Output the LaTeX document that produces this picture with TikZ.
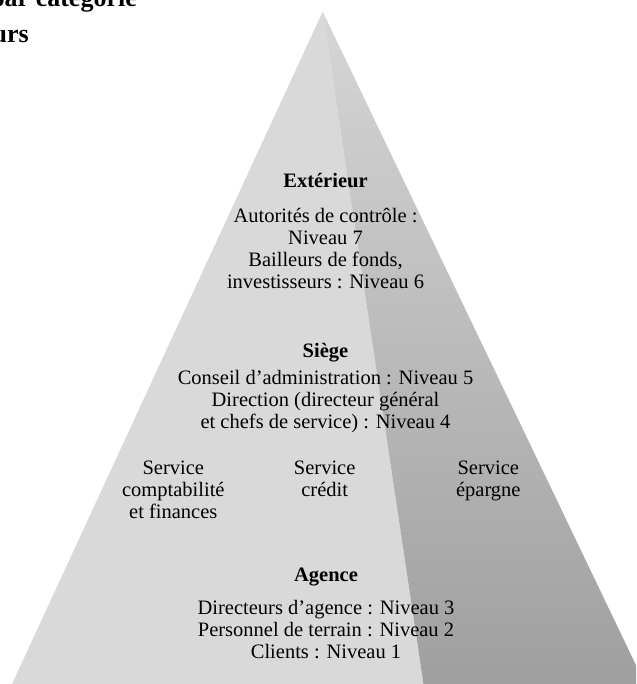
\documentclass[tikz,border=0pt]{standalone}
\usepackage{fontspec}
\setmainfont{Liberation Serif}
\definecolor{faceleft}{HTML}{D9D9D9}
\definecolor{facetop}{HTML}{D6D6D6}
\definecolor{facemid}{HTML}{C2C2C2}
\definecolor{facebot}{HTML}{9F9F9F}

\begin{document}
\begin{tikzpicture}[x=1pt,y=-1pt,
	lvl/.style={font=\fontsize{20.5}{22}\selectfont, align=center, inner sep=0pt, anchor=base},
	hd/.style={font=\fontsize{20.5}{22}\selectfont\bfseries, inner sep=0pt, anchor=base},
	ttl/.style={font=\fontsize{26}{32}\selectfont\bfseries, inner sep=0pt, anchor=base east}]

	\useasboundingbox (0,0) rectangle (636,684);
	\clip (0,0) rectangle (636,684);

	% pyramid faces
	\coordinate (P) at (322.7,11.7);
	\coordinate (L) at (12,684);
	\coordinate (M) at (423.5,684);
	\coordinate (R) at (645,684);
	\fill[faceleft] (P) -- (L) -- (M) -- cycle;
	\shade[top color=facetop, middle color=facemid, bottom color=facebot] (P) -- (M) -- (R) -- cycle;

	% title, cut at the page edge
	\node[ttl] (T1) at (137,7) {par catégorie};
	\node[ttl] (T2) at (29,43) {urs};

	% levels (base = last line)
	\node[hd] (E) at (325.5,188) {Extérieur};
	\node[lvl] (E1) at (325.5,288) {Autorités de contrôle :\\Niveau 7\\Bailleurs de fonds,\\investisseurs : Niveau 6};

	\node[hd] (S) at (325.5,357) {Siège};
	\node[lvl] (S1) at (325.5,428.5) {Conseil d’administration : Niveau 5\\Direction (directeur général\\et chefs de service) : Niveau 4};

	\node[lvl] (SC) at (173.3,518) {Service\\comptabilité\\et finances};
	\node[lvl] (SK) at (324.7,496) {Service\\crédit};
	\node[lvl] (SE) at (488.3,496) {Service\\épargne};

	\node[hd] (A) at (326,581) {Agence};
	\node[lvl] (A1) at (326,658) {Directeurs d’agence : Niveau 3\\Personnel de terrain : Niveau 2\\Clients : Niveau 1};
\end{tikzpicture}
\end{document}
